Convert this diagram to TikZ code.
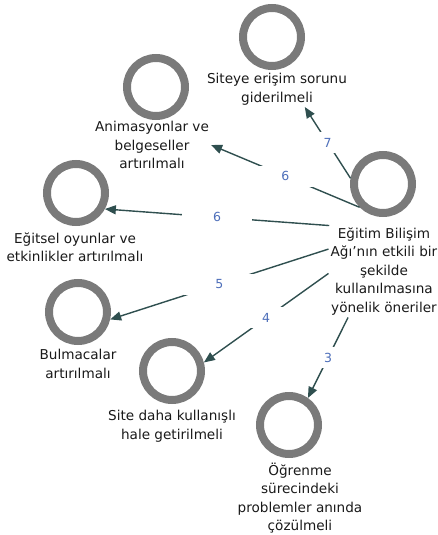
\documentclass[tikz,border=0pt]{standalone}
\usepackage{fontspec}
\setmainfont{DejaVu Sans}
\usetikzlibrary{arrows.meta}
\definecolor{ringc}{HTML}{7A7A7A}
\definecolor{arrc}{HTML}{2F4F4F}
\definecolor{numc}{HTML}{4E6FBA}
\begin{document}
\begin{tikzpicture}[x=1pt,y=-1pt,
  ring/.style={circle,draw=ringc,line width=8pt,minimum size=58pt,inner sep=0pt},
  lbl/.style={align=center,font=\fontsize{13.6}{18.5}\selectfont,text=black!90,inner sep=2pt},
  conn/.style={draw=arrc,line width=1.4pt,-{Triangle[length=11pt,width=9pt]}},
  num/.style={fill=white,text=numc,font=\fontsize{12.5}{14}\selectfont,minimum width=70pt,minimum height=21pt,inner sep=0pt}]
\useasboundingbox (0,0) rectangle (437,535);
\node[ring] (c) at (383,184) {};
\node[lbl] (ct) at (384,271.5) {Eğitim Bilişim\\Ağı’nın etkili bir\\şekilde\\kullanılmasına\\yönelik öneriler};
\node[ring] (r7) at (272,37) {};
\node[lbl] (t7) at (277,89) {Siteye erişim sorunu\\giderilmeli};
\node[ring] (r6a) at (156,87) {};
\node[lbl] (t6a) at (152,145) {Animasyonlar ve\\belgeseller\\artırılmalı};
\node[ring] (r6b) at (76,193) {};
\node[lbl] (t6b) at (75,247.5) {Eğitsel oyunlar ve\\etkinlikler artırılmalı};
\node[ring] (r5) at (78,312) {};
\node[lbl] (t5) at (78,364) {Bulmacalar\\artırılmalı};
\node[ring] (r4) at (172,371) {};
\node[lbl] (t4) at (172,426) {Site daha kullanışlı\\hale getirilmeli};
\node[ring] (r3) at (289,425) {};
\node[lbl] (t3) at (300,498) {Öğrenme\\sürecindeki\\problemler anında\\çözülmeli};
\draw[conn] (c.170) -- node[num]{7} (t7.-33);
\draw[conn] (c.225) -- node[num]{6} (t6a.east);
\draw[conn] (ct.140) -- node[num]{6} (r6b.-29);
\draw[conn] (ct.158) -- node[num]{5} (r5.-13);
\draw[conn] (ct.182) -- node[num]{4} (r4.15);
\draw[conn] (ct.232) -- node[num]{3} (r3.55);
\end{tikzpicture}
\end{document}
